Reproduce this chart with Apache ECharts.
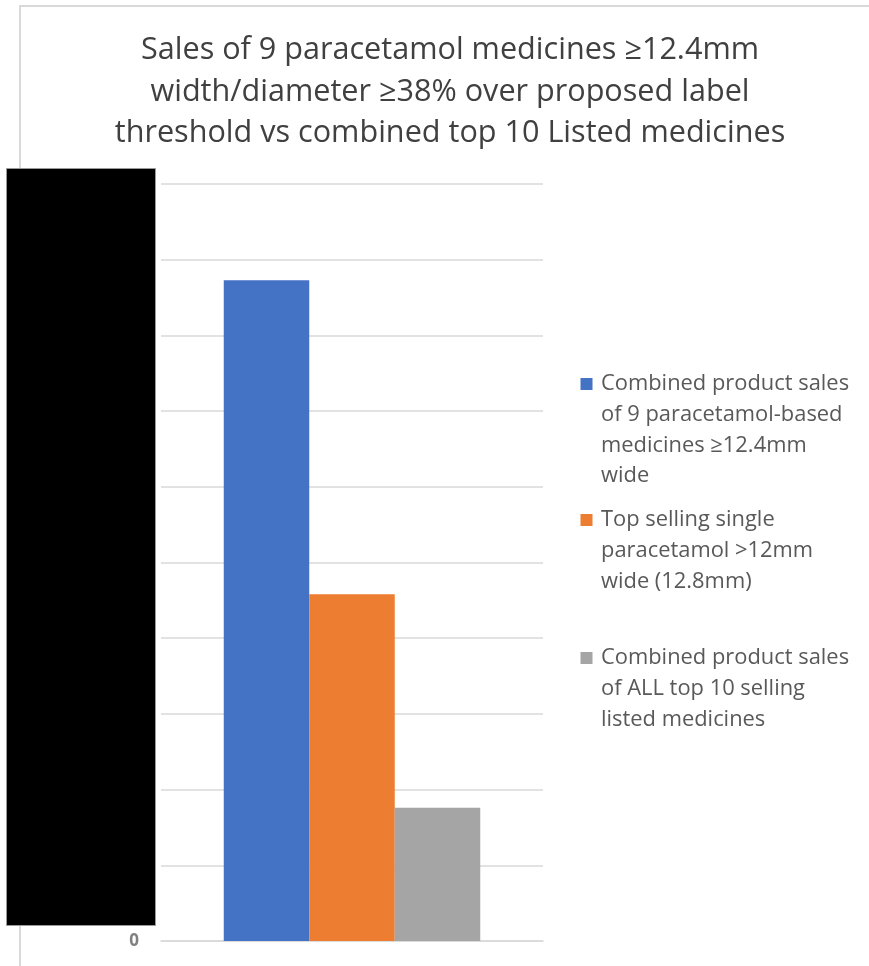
<!DOCTYPE html>
<html>
<head>
<meta charset="utf-8">
<script src="https://cdn.jsdelivr.net/npm/echarts@6/dist/echarts.min.js"></script>
<style>
  html, body { margin: 0; padding: 0; background: #ffffff; }
  #chart { width: 869px; height: 966px; }
</style>
</head>
<body>
<div id="chart"></div>
<script>
// Chart data
const titleLines = [
  'Sales of 9 paracetamol medicines \u226512.4mm',
  'width/diameter \u226538% over proposed label',
  'threshold vs combined top 10 Listed medicines'
];
const categories = [''];
const seriesNames = [
  'Combined product sales\nof 9 paracetamol-based\nmedicines \u226512.4mm\nwide',
  'Top selling single\nparacetamol >12mm\nwide (12.8mm)',
  'Combined product sales\nof ALL top 10 selling\nlisted medicines'
];
const blueValues = [8.73];
const orangeValues = [4.58];
const greyValues = [1.76];
const yTicks = { min: 0, max: 10, interval: 1 };

const FONT = '"Open Sans", "Noto Sans", sans-serif';
const LEGEND_LH = 30.7;
const seriesColors = ['#4472C4', '#ED7D31', '#A5A5A5'];
const legendIconCenters = [384, 520, 658];

// One legend block per series so the spacing between entries can differ.
// Blank leading lines put the first text line level with the square,
// since legend text is centred vertically on its icon.
const legends = seriesNames.map((name, i) => {
  const n = name.split('\n').length;
  return {
    data: [name],
    orient: 'vertical',
    left: 580.5,
    top: legendIconCenters[i] - (2 * n - 1) * LEGEND_LH / 2,
    padding: 0,
    itemWidth: 19,
    itemHeight: 12,
    itemGap: 0,
    icon: 'path://M0,0L10,0L10,10L0,10Z',
    symbolKeepAspect: true,
    selectedMode: false,
    formatter: label => '\n'.repeat(n - 1) + label,
    textStyle: {
      fontFamily: FONT,
      fontSize: 21.9,
      color: '#595959',
      lineHeight: LEGEND_LH
    }
  };
});

const barSeries = [blueValues, orangeValues, greyValues].map((vals, i) => ({
  name: seriesNames[i],
  type: 'bar',
  data: vals,
  barWidth: 85.5,
  barGap: '0%',
  itemStyle: { color: seriesColors[i] },
  emphasis: { disabled: true }
}));

const chart = echarts.init(document.getElementById('chart'), null, { renderer: 'canvas' });
chart.setOption({
  animation: false,
  backgroundColor: '#ffffff',
  title: {
    text: titleLines.join('\n'),
    left: 450,
    top: 30,
    padding: 0,
    textAlign: 'center',
    textStyle: {
      fontFamily: FONT,
      fontSize: 30.6,
      fontWeight: 'normal',
      color: '#404040',
      lineHeight: 41.5
    }
  },
  legend: legends,
  grid: {
    left: 161,
    right: 326,
    top: 184,
    bottom: 25,
    containLabel: false,
    outerBoundsMode: 'none'
  },
  xAxis: {
    type: 'category',
    data: categories,
    axisLine: { lineStyle: { color: '#d9d9d9', width: 1.5 } },
    axisTick: { show: false },
    axisLabel: { show: false }
  },
  yAxis: {
    type: 'value',
    min: yTicks.min,
    max: yTicks.max,
    interval: yTicks.interval,
    axisLine: { show: false },
    axisTick: { show: false },
    splitLine: { lineStyle: { color: '#d9d9d9', width: 1.5 } },
    axisLabel: {
      margin: 22,
      fontFamily: FONT,
      fontSize: 17,
      fontWeight: 'bold',
      color: '#808080',
      formatter: v => (v === 0 ? '0' : '')
    }
  },
  series: barSeries,
  graphic: [
    {
      type: 'polyline',
      z: 0,
      silent: true,
      shape: { points: [[20, 966], [20, 6], [869, 6]] },
      style: { stroke: '#d9d9d9', lineWidth: 2, fill: null }
    },
    {
      type: 'rect',
      z: 100,
      silent: true,
      shape: { x: 6.5, y: 168.5, width: 149, height: 757 },
      style: { fill: '#000000', stroke: '#9a9a9a', lineWidth: 1 }
    }
  ]
});
</script>
</body>
</html>
